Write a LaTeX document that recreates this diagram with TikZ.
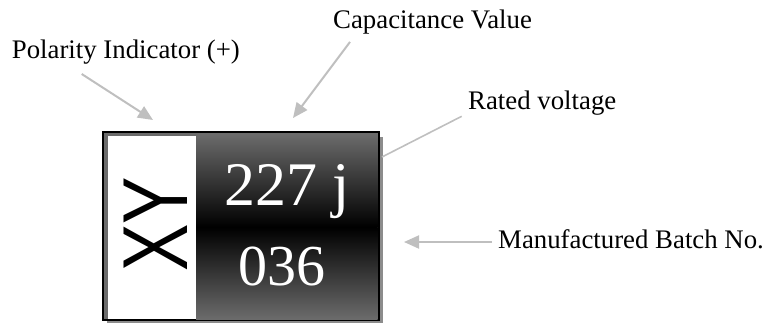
\documentclass[tikz,border=0pt]{standalone}
\usepackage{fontspec}
\setmainfont{Liberation Serif}
\newfontfamily\xyfont{Liberation Sans}
\usetikzlibrary{arrows.meta, positioning, shadows}

\begin{document}
\begin{tikzpicture}[
    x=1pt, y=-1pt,
    callout/.style={inner sep=2pt, anchor=base west, font=\fontsize{26.8}{30}\selectfont},
    pointer/.style={draw=black!25, line width=2pt, -{Triangle[length=15pt, width=13pt]}},
    leader/.style={draw=black!25, line width=1.6pt},
    chipbox/.style={rectangle, draw=black, line width=2pt, fill=black!58, minimum width=275.5pt, minimum height=188pt, inner sep=0pt,
        drop shadow={shadow xshift=4pt, shadow yshift=-5pt, fill=black!45, opacity=1}},
    marking/.style={text=white, inner sep=0pt, anchor=base west},
]
\useasboundingbox (0,0) rectangle (776,322);

% Capacitor body
\node[chipbox] (chip) at (240.75,226) {};
\fill[white] (108,136) rectangle (196,319);
\shade[top color=black!58, bottom color=black] (196,134) rectangle (377.5,227);
\shade[top color=black, bottom color=black!58] (196,227) rectangle (377.5,319);

% Markings
\node[rotate=90, inner sep=0pt, font=\xyfont\fontsize{71}{71}\selectfont] (polmark) at (155.5,224) {\scalebox{1}[1.3]{XY}};
\node[marking, font=\fontsize{62}{64}\selectfont] (value) at (224,205) {227 j};
\node[marking, font=\fontsize{58}{60}\selectfont] (batchno) at (238.6,285) {036};

% Labels
\node[callout] (polarity) at (9.7,58) {Polarity Indicator (+)};
\node[callout] (capacitance) at (331,28) {Capacitance Value};
\node[callout] (rated) at (466,109) {Rated voltage};
\node[callout] (batch) at (496,248) {Manufactured Batch No.};

% Targets
\coordinate (polTip) at (153,120);
\coordinate (capTip) at (293,118);
\coordinate (ratedEnd) at (382,157);
\coordinate (batchTip) at (404,242);

% Arrows
\draw[pointer] ([xshift=72pt, yshift=-8pt]polarity.south west) -- (polTip);
\draw[pointer] ([xshift=19pt, yshift=-6pt]capacitance.south west) -- (capTip);
\draw[leader] ([xshift=-4.3pt, yshift=0.7pt]rated.south west) -- (ratedEnd);
\draw[pointer] ([xshift=-4pt, yshift=6pt]batch.base west) -- (batchTip);

\end{tikzpicture}
\end{document}
